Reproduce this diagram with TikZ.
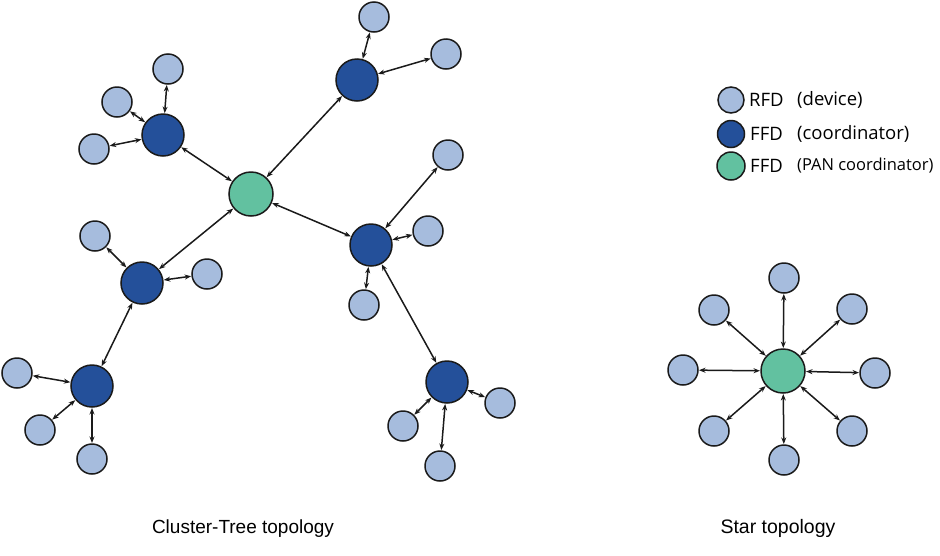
\documentclass[tikz,border=0pt]{standalone}
\usepackage{fontspec}
\setmainfont{Liberation Sans}
\newfontfamily\legfont{Open Sans}
\usetikzlibrary{arrows.meta}
\definecolor{rfdcol}{HTML}{A6BCDD}
\definecolor{ffdcol}{HTML}{24509A}
\definecolor{pancol}{HTML}{62C1A0}
\definecolor{edgecol}{HTML}{1A1A1A}
\begin{document}
\begin{tikzpicture}[x=1pt,y=-1pt,
  rfd/.style={circle,draw=edgecol,line width=1.5pt,fill=rfdcol,minimum size=30pt,inner sep=0pt,outer sep=1pt},
  ffd/.style={circle,draw=edgecol,line width=1.5pt,fill=ffdcol,minimum size=42pt,inner sep=0pt,outer sep=1pt},
  pan/.style={circle,draw=edgecol,line width=1.5pt,fill=pancol,minimum size=44pt,inner sep=0pt,outer sep=1pt},
  legrfd/.style={rfd,minimum size=26pt},
  legffd/.style={ffd,minimum size=27pt},
  legpan/.style={pan,minimum size=28pt},
  link/.style={<->,>={Stealth[length=6.5pt,width=5pt]},line width=1.5pt,draw=edgecol},
  leg/.style={anchor=west,inner sep=0pt,font=\legfont\fontsize{18.5}{22}\selectfont},
  legsmall/.style={anchor=west,inner sep=0pt,font=\legfont\fontsize{16.5}{20}\selectfont},
  title/.style={inner sep=0pt,font=\fontsize{19}{22}\selectfont}
]
\useasboundingbox[fill=white] (0,0) rectangle (940,555);
% cluster-tree
\node[pan] (pan) at (251,194) {};
\node[ffd] (c1) at (163,135) {};
\node[ffd] (c2) at (357,80) {};
\node[ffd] (c3) at (371,245) {};
\node[ffd] (c4) at (142,283) {};
\node[ffd] (c5) at (92,386) {};
\node[ffd] (c6) at (447,382) {};
\node[rfd] (r1a) at (168,69) {};
\node[rfd] (r1b) at (117,102) {};
\node[rfd] (r1c) at (94,149) {};
\node[rfd] (r2a) at (374,17) {};
\node[rfd] (r2b) at (446,54) {};
\node[rfd] (r3a) at (448,155) {};
\node[rfd] (r3b) at (428,231) {};
\node[rfd] (r3c) at (364,305) {};
\node[rfd] (r4a) at (95,236) {};
\node[rfd] (r4b) at (207,274) {};
\node[rfd] (r5a) at (17,373) {};
\node[rfd] (r5b) at (40,430) {};
\node[rfd] (r5c) at (92,459) {};
\node[rfd] (r6a) at (500,403) {};
\node[rfd] (r6b) at (403,426) {};
\node[rfd] (r6c) at (440,466) {};
\foreach \a/\b in {c1/pan,c2/pan,c3/pan,c4/pan,c4/c5,c3/c6,
  c1/r1a,c1/r1b,c1/r1c,c2/r2a,c2/r2b,c3/r3a,c3/r3b,c3/r3c,
  c4/r4a,c4/r4b,c5/r5a,c5/r5b,c5/r5c,c6/r6a,c6/r6b,c6/r6c}
  \draw[link] (\a) -- (\b);
\node[title] (ctt) at (243,529) {Cluster-Tree topology};
% star
\node[pan] (sc) at (783,371) {};
\node[rfd] (s1) at (784,278) {};
\node[rfd] (s2) at (852,309) {};
\node[rfd] (s3) at (875,373) {};
\node[rfd] (s4) at (852,431) {};
\node[rfd] (s5) at (784,460) {};
\node[rfd] (s6) at (714,431) {};
\node[rfd] (s7) at (683,370) {};
\node[rfd] (s8) at (714,310) {};
\foreach \b in {s1,s2,s3,s4,s5,s6,s7,s8}
  \draw[link] (sc) -- (\b);
\node[title,font=\fontsize{19.5}{22}\selectfont] (stt) at (778,528) {Star topology};
% legend
\node[legrfd] (l1) at (731,100) {};
\node[legffd] (l2) at (731,134) {};
\node[legpan] (l3) at (731,166) {};
\node[leg] (t1) at (749,100) {RFD};
\node[leg] (t1b) at (797,100) {(device)};
\node[leg] (t2) at (750,134) {FFD};
\node[leg] (t2b) at (797,134) {(coordinator)};
\node[leg] (t3) at (750,166) {FFD};
\node[legsmall] (t3b) at (797,166) {(PAN coordinator)};
\end{tikzpicture}
\end{document}
